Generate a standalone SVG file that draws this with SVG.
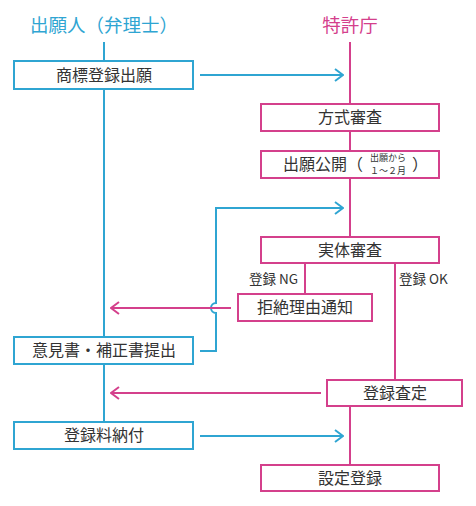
<svg xmlns="http://www.w3.org/2000/svg" width="476" height="506" viewBox="0 0 476 506">
<defs>
<style>
.t{font-family:"Noto Sans CJK JP","Noto Sans CJK SC",sans-serif;fill:#333;font-size:16px;text-anchor:middle}
.s{font-family:"Noto Sans CJK JP","Noto Sans CJK SC",sans-serif;fill:#333;font-size:13.5px}
.m{font-family:"Noto Sans CJK JP","Noto Sans CJK SC",sans-serif;fill:#333;font-size:9px;text-anchor:middle}
.bb{fill:#fff;stroke:#2fa5d2;stroke-width:2}
.pb{fill:#fff;stroke:#d4408c;stroke-width:2}
.bl{fill:none;stroke:#2fa5d2;stroke-width:2}
.pl{fill:none;stroke:#d4408c;stroke-width:2}
</style>
<marker id="ab" viewBox="0 0 10 14" refX="9" refY="7" markerWidth="10" markerHeight="14" markerUnits="userSpaceOnUse" orient="auto"><path d="M1,1 L9,7 L1,13" fill="none" stroke="#2fa5d2" stroke-width="2"/></marker>
<marker id="ap" viewBox="0 0 10 14" refX="9" refY="7" markerWidth="10" markerHeight="14" markerUnits="userSpaceOnUse" orient="auto"><path d="M1,1 L9,7 L1,13" fill="none" stroke="#d4408c" stroke-width="2"/></marker>
</defs>
<rect width="476" height="506" fill="#fff"/>
<g id="titles">
<text x="104" y="32" font-family="'Noto Sans CJK JP',sans-serif" font-size="18.5" fill="#2fa5d2" text-anchor="middle">出願人（弁理士）</text>
<text x="350" y="32" font-family="'Noto Sans CJK JP',sans-serif" font-size="18.5" fill="#d4408c" text-anchor="middle">特許庁</text>
</g>
<g id="connectors">
<line class="bl" x1="104" y1="42" x2="104" y2="422"/>
<line class="pl" x1="350" y1="42" x2="350" y2="237"/>
<line class="pl" x1="305" y1="263" x2="305" y2="294"/>
<line class="pl" x1="395" y1="263" x2="395" y2="380"/>
<line class="pl" x1="350" y1="406" x2="350" y2="465"/>
<line class="bl" x1="200" y1="75" x2="343" y2="75" marker-end="url(#ab)"/>
<line class="bl" x1="200" y1="436" x2="343" y2="436" marker-end="url(#ab)"/>
<path class="bl" d="M200,351 H216 V313 A5,5 0 0 1 216,303 V208 H343" marker-end="url(#ab)"/>
<line class="pl" x1="231" y1="308" x2="111" y2="308" marker-end="url(#ap)"/>
<line class="pl" x1="321" y1="393" x2="111" y2="393" marker-end="url(#ap)"/>
<text class="s" x="249" y="284">登録 NG</text>
<text class="s" x="399" y="284">登録 OK</text>
</g>
<g id="n1"><rect class="bb" x="14" y="61" width="179" height="28"/><text class="t" x="104" y="81">商標登録出願</text></g>
<g id="n2"><rect class="pb" x="261" y="104" width="178" height="27"/><text class="t" x="350" y="123">方式審査</text></g>
<g id="n3"><rect class="pb" x="261" y="151" width="178" height="27"/><text class="t" x="315" y="170">出願公開</text><text class="t" x="355" y="170">（</text><text class="m"><tspan x="388" y="161">出願から</tspan><tspan x="388" y="174">１～２月</tspan></text><text class="t" x="420" y="170">）</text></g>
<g id="n4"><rect class="pb" x="261" y="237" width="178" height="26"/><text class="t" x="350" y="256">実体審査</text></g>
<g id="n5"><rect class="pb" x="238" y="294" width="134" height="27"/><text class="t" x="305" y="313">拒絶理由通知</text></g>
<g id="n6"><rect class="bb" x="14" y="337" width="179" height="27"/><text class="t" x="104" y="356">意見書・補正書提出</text></g>
<g id="n7"><rect class="pb" x="327" y="380" width="135" height="26"/><text class="t" x="395" y="399">登録査定</text></g>
<g id="n8"><rect class="bb" x="14" y="422" width="179" height="27"/><text class="t" x="104" y="441">登録料納付</text></g>
<g id="n9"><rect class="pb" x="261" y="465" width="178" height="26"/><text class="t" x="350" y="484">設定登録</text></g>
</svg>
